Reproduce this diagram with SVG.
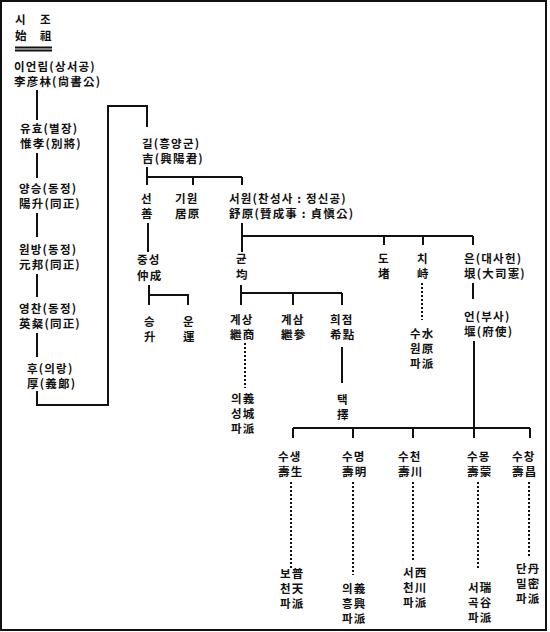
<svg xmlns="http://www.w3.org/2000/svg" width="550" height="632" viewBox="0 0 550 632">
<style>
text{font-family:"Noto Sans CJK KR","Noto Sans CJK SC",sans-serif;font-size:11.5px;font-weight:700;fill:#111;letter-spacing:1.2px}
.c line,.c polyline{stroke:#111;stroke-width:2;fill:none}
.c .d{stroke-dasharray:2 2}
</style>
<rect x="1" y="1" width="545" height="629" fill="#fff" stroke="#111" stroke-width="2"/>
<g class="c" id="connectors">
<line x1="15" y1="47.5" x2="52" y2="47.5" stroke-width="1.3"/>
<line x1="15" y1="50.5" x2="52" y2="50.5" stroke-width="1.3"/>
<line x1="37" y1="90" x2="37" y2="120"/>
<line x1="37" y1="153" x2="37" y2="178"/>
<line x1="37" y1="213" x2="37" y2="237"/>
<line x1="37" y1="274" x2="37" y2="297"/>
<line x1="37" y1="333" x2="37" y2="357"/>
<polyline points="37,391 37,405 108,405 108,106 147,106 147,127"/>
<line x1="147" y1="167" x2="147" y2="185"/>
<line x1="147" y1="177" x2="242" y2="177"/>
<line x1="193" y1="177" x2="193" y2="185"/>
<line x1="242" y1="177" x2="242" y2="185"/>
<line x1="148" y1="223" x2="148" y2="252"/>
<line x1="149" y1="285" x2="149" y2="305"/>
<polyline points="149,295 188,295 188,305"/>
<line x1="242" y1="223" x2="242" y2="252"/>
<line x1="242" y1="236" x2="473" y2="236"/>
<line x1="384" y1="236" x2="384" y2="245"/>
<line x1="423" y1="236" x2="423" y2="245"/>
<line x1="473" y1="236" x2="473" y2="245"/>
<line x1="241" y1="285" x2="241" y2="305"/>
<line x1="241" y1="293" x2="342" y2="293"/>
<line x1="293" y1="293" x2="293" y2="305"/>
<line x1="342" y1="293" x2="342" y2="305"/>
<line class="d" x1="245" y1="343" x2="245" y2="388"/>
<line x1="342" y1="347" x2="342" y2="383"/>
<line class="d" x1="422" y1="283" x2="422" y2="320"/>
<line x1="473" y1="283" x2="473" y2="299"/>
<line x1="474" y1="341" x2="474" y2="438"/>
<line x1="293" y1="428" x2="530" y2="428"/>
<line x1="293" y1="428" x2="293" y2="438"/>
<line x1="353" y1="428" x2="353" y2="438"/>
<line x1="413" y1="428" x2="413" y2="438"/>
<line x1="530" y1="428" x2="530" y2="438"/>
<line class="d" x1="291" y1="482" x2="291" y2="568"/>
<line class="d" x1="353" y1="482" x2="353" y2="575"/>
<line class="d" x1="413" y1="482" x2="413" y2="562"/>
<line class="d" x1="478" y1="482" x2="478" y2="570"/>
<line class="d" x1="529" y1="482" x2="529" y2="557"/>
</g>
<g id="n-sijo"><text x="15" y="24">시</text><text x="40" y="24">조</text><text x="15" y="40">始</text><text x="40" y="40">祖</text></g>
<g id="n-eonrim"><text x="14" y="71">이언림(상서공)</text><text x="14" y="86">李彦林(尙書公)</text></g>
<g id="n-yuhyo"><text x="20" y="133">유효(별장)</text><text x="20" y="148">惟孝(別將)</text></g>
<g id="n-yangseung"><text x="19" y="193">양승(동정)</text><text x="19" y="208">陽升(同正)</text></g>
<g id="n-wonbang"><text x="19" y="254">원방(동정)</text><text x="19" y="269">元邦(同正)</text></g>
<g id="n-yeongchan"><text x="19" y="313">영찬(동정)</text><text x="19" y="328">英粲(同正)</text></g>
<g id="n-hu"><text x="27" y="373">후(의랑)</text><text x="27" y="388">厚(義郞)</text></g>
<g id="n-gil"><text x="142" y="148">길(흥양군)</text><text x="142" y="163">吉(興陽君)</text></g>
<g id="n-seon"><text x="141" y="203">선</text><text x="141" y="218">善</text></g>
<g id="n-giwon"><text x="175" y="203">기원</text><text x="175" y="218">居原</text></g>
<g id="n-seowon"><text x="229" y="203">서원(찬성사 : 정신공)</text><text x="229" y="218">舒原(贊成事 : 貞愼公)</text></g>
<g id="n-jungseong"><text x="137" y="264">중성</text><text x="137" y="280">仲成</text></g>
<g id="n-seung"><text x="144" y="326">승</text><text x="144" y="341">升</text></g>
<g id="n-un"><text x="183" y="326">운</text><text x="183" y="341">運</text></g>
<g id="n-gyun"><text x="236" y="263">균</text><text x="236" y="279">均</text></g>
<g id="n-gyesang"><text x="230" y="324">계상</text><text x="230" y="339">繼商</text></g>
<g id="n-gyesam"><text x="281" y="324">계삼</text><text x="281" y="339">繼參</text></g>
<g id="n-huijeom"><text x="330" y="324">희점</text><text x="330" y="339">希點</text></g>
<g id="n-uiseong"><text x="231" y="403">의義</text><text x="231" y="418">성城</text><text x="231" y="433">파派</text></g>
<g id="n-taek"><text x="337" y="404">택</text><text x="337" y="419">擇</text></g>
<g id="n-do"><text x="378" y="263">도</text><text x="378" y="278">堵</text></g>
<g id="n-chi"><text x="417" y="263">치</text><text x="417" y="278">峙</text></g>
<g id="n-suwon"><text x="410" y="338">수水</text><text x="410" y="353">원原</text><text x="410" y="368">파派</text></g>
<g id="n-eun"><text x="464" y="263">은(대사헌)</text><text x="464" y="278">垠(大司憲)</text></g>
<g id="n-eon"><text x="464" y="321">언(부사)</text><text x="464" y="336">堰(府使)</text></g>
<g id="n-susaeng"><text x="278" y="461">수생</text><text x="278" y="476">壽生</text></g>
<g id="n-sumyeong"><text x="342" y="461">수명</text><text x="342" y="476">壽明</text></g>
<g id="n-sucheon"><text x="398" y="461">수천</text><text x="398" y="476">壽川</text></g>
<g id="n-sumong"><text x="467" y="461">수몽</text><text x="467" y="476">壽蒙</text></g>
<g id="n-suchang"><text x="512" y="461">수창</text><text x="512" y="476">壽昌</text></g>
<g id="n-bocheon"><text x="280" y="578">보普</text><text x="280" y="593">천天</text><text x="280" y="608">파派</text></g>
<g id="n-uiheung"><text x="342" y="593">의義</text><text x="342" y="608">흥興</text><text x="342" y="623">파派</text></g>
<g id="n-seocheon"><text x="403" y="577">서西</text><text x="403" y="592">천川</text><text x="403" y="607">파派</text></g>
<g id="n-seogok"><text x="468" y="592">서瑞</text><text x="468" y="607">곡谷</text><text x="468" y="622">파派</text></g>
<g id="n-danmil"><text x="516" y="573">단丹</text><text x="516" y="588">밀密</text><text x="516" y="603">파派</text></g>
</svg>
